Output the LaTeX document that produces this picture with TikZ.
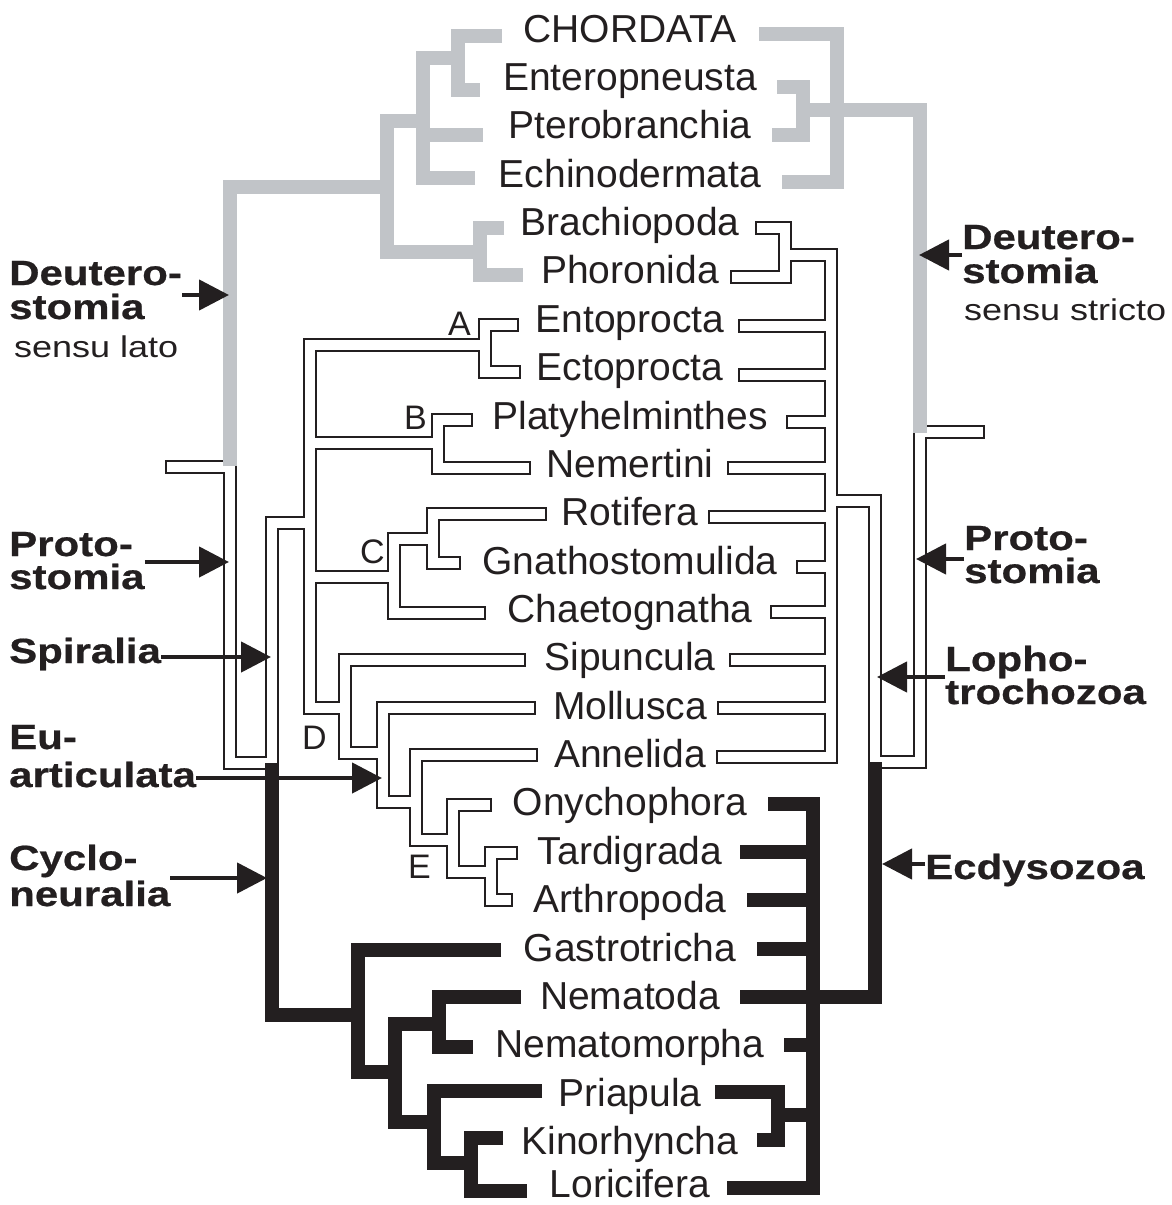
\documentclass[tikz,border=0pt]{standalone}
\usepackage{fontspec}
\usetikzlibrary{arrows.meta}
\newfontfamily\taxfont{Liberation Sans}
\newfontfamily\sidefont[FakeStretch=1.2, BoldFeatures={FakeBold=0.6}]{Liberation Sans}
\definecolor{blk}{HTML}{231F20}
\definecolor{greyc}{HTML}{C1C4C8}
\newcommand\hollowtree[1]{%
 % left tree (hollow part)
 \draw[#1] (172,467) -- (230,467) -- (230,763) -- (272,763) -- (272,523) -- (310,523);
 \draw[#1] (485,345) -- (310,345) -- (310,708) -- (345,708);
 \draw[#1] (512,325) -- (485,325) -- (485,372) -- (514,372);
 \draw[#1] (310,443) -- (438,443);
 \draw[#1] (466,420) -- (438,420) -- (438,468) -- (524,468);
 \draw[#1] (310,577) -- (394,577);
 \draw[#1] (433,539) -- (394,539) -- (394,613) -- (479,613);
 \draw[#1] (540,514) -- (433,514) -- (433,563) -- (454,563);
 \draw[#1] (519,660) -- (345,660) -- (345,753) -- (383,753);
 \draw[#1] (529,708) -- (383,708) -- (383,802) -- (416,802);
 \draw[#1] (531,755) -- (416,755) -- (416,840) -- (453,840);
 \draw[#1] (485,805) -- (453,805) -- (453,872) -- (491,872);
 \draw[#1] (511,853) -- (491,853) -- (491,900) -- (506,900);
 % right tree (hollow part)
 \draw[#1] (978,432) -- (920,432) -- (920,762) -- (875,762) -- (875,501) -- (831,501);
 \draw[#1] (762,228) -- (785,228) -- (785,277) -- (737,277);
 \draw[#1] (785,255) -- (831,255) -- (831,757) -- (723,757);
 \foreach \yy/\xx in {326/745, 375/745, 422/793, 468/734, 517/715, 567/803, 612/777, 660/736, 708/724}
   {\draw[#1] (\xx,\yy) -- (831,\yy);}
}
\tikzset{
  greybranch/.style={draw=greyc, line width=14pt, line join=miter},
  blackbranch/.style={draw=blk, line width=14pt, line join=miter},
  hollowout/.style={draw=blk, line width=14pt, line cap=rect, line join=miter},
  hollowin/.style={draw=white, line width=10.6pt, line cap=rect, line join=miter},
  taxon/.style={anchor=base, inner sep=0pt, text=blk, font=\taxfont\fontsize{39pt}{39pt}\selectfont},
  cladelbl/.style={anchor=base west, inner sep=0pt, text=blk, font=\taxfont\fontsize{34pt}{34pt}\selectfont},
  sidebold/.style={anchor=base west, inner sep=0pt, text=blk, font=\sidefont\bfseries\fontsize{35pt}{35pt}\selectfont},
  sidereg/.style={anchor=base west, inner sep=0pt, text=blk, font=\sidefont\fontsize{30pt}{30pt}\selectfont},
  pointer/.style={draw=blk, line width=4.5pt, -{Triangle[length=30pt,width=30pt]}},
}
\begin{document}
\begin{tikzpicture}[x=1pt, y=-1pt]
\fill[white] (0,0) rectangle (1172,1205);
\useasboundingbox (0,0) rectangle (1172,1205);

% hollow (outlined) branches: outline pass, then interior pass
\hollowtree{hollowout}
\hollowtree{hollowin}

% grey branches (Deuterostomia)
\draw[greybranch] (230,466) -- (230,187) -- (387,187);
\draw[greybranch] (423,121) -- (387,121) -- (387,252) -- (480,252);
\draw[greybranch] (458,58) -- (423,58) -- (423,178) -- (475,178);
\draw[greybranch] (423,135) -- (483,135);
\draw[greybranch] (502,36) -- (458,36) -- (458,90) -- (480,90);
\draw[greybranch] (504,228) -- (480,228) -- (480,275) -- (523,275);
\draw[greybranch] (759,34) -- (837,34) -- (837,182) -- (782,182);
\draw[greybranch] (777,87) -- (803,87) -- (803,135) -- (772,135);
\draw[greybranch] (803,110) -- (920,110) -- (920,433);

% black branches
\draw[blackbranch] (272,763) -- (272,1015) -- (358,1015);
\draw[blackbranch] (501,950) -- (358,950) -- (358,1072) -- (395,1072);
\draw[blackbranch] (439,1024) -- (395,1024) -- (395,1122) -- (434,1122);
\draw[blackbranch] (521,997) -- (439,997) -- (439,1047) -- (473,1047);
\draw[blackbranch] (542,1091) -- (434,1091) -- (434,1163) -- (471,1163);
\draw[blackbranch] (503,1138) -- (471,1138) -- (471,1191) -- (527,1191);
\draw[blackbranch] (875,762) -- (875,997) -- (813,997);
\draw[blackbranch] (768,804) -- (813,804) -- (813,1188) -- (727,1188);
\foreach \yy/\xx in {852/740, 900/747, 949/757, 997/740, 1045/784}
  {\draw[blackbranch] (\xx,\yy) -- (813,\yy);}
\draw[blackbranch] (715,1092) -- (778,1092) -- (778,1140) -- (757,1140);
\draw[blackbranch] (778,1115) -- (813,1115);

% taxa
\node[taxon] (tCho) at (630,42) {CHORDATA};
\node[taxon] (tEnt) at (630,90.4) {Enteropneusta};
\node[taxon] (tPte) at (630,138.7) {Pterobranchia};
\node[taxon] (tEch) at (630,187.1) {Echinodermata};
\node[taxon] (tBra) at (630,235.5) {Brachiopoda};
\node[taxon] (tPho) at (630,283.9) {Phoronida};
\node[taxon] (tEnto) at (630,332.2) {Entoprocta};
\node[taxon] (tEcto) at (630,380.6) {Ectoprocta};
\node[taxon] (tPla) at (630,429.0) {Platyhelminthes};
\node[taxon] (tNem) at (630,477.3) {Nemertini};
\node[taxon] (tRot) at (630,525.7) {Rotifera};
\node[taxon] (tGna) at (630,574.1) {Gnathostomulida};
\node[taxon] (tCha) at (630,622.4) {Chaetognatha};
\node[taxon] (tSip) at (630,670.8) {Sipuncula};
\node[taxon] (tMol) at (630,719.2) {Mollusca};
\node[taxon] (tAnn) at (630,767.6) {Annelida};
\node[taxon] (tOny) at (630,815.9) {Onychophora};
\node[taxon] (tTar) at (630,864.3) {Tardigrada};
\node[taxon] (tArt) at (630,912.7) {Arthropoda};
\node[taxon] (tGas) at (630,961.0) {Gastrotricha};
\node[taxon] (tNema) at (630,1009.4) {Nematoda};
\node[taxon] (tNmo) at (630,1057.8) {Nematomorpha};
\node[taxon] (tPri) at (630,1106.1) {Priapula};
\node[taxon] (tKin) at (630,1154.5) {Kinorhyncha};
\node[taxon] (tLor) at (630,1197) {Loricifera};

% clade letters
\node[cladelbl] (cA) at (448,335) {A};
\node[cladelbl] (cB) at (404,429) {B};
\node[cladelbl] (cC) at (360,563) {C};
\node[cladelbl] (cD) at (302,749) {D};
\node[cladelbl] (cE) at (408,878) {E};

% left side labels
\node[sidebold] (lDe1) at (9,285) {Deutero-};
\node[sidebold] (lDe2) at (9,319) {stomia};
\node[sidereg]  (lDe3) at (14,357) {sensu lato};
\node[sidebold] (lPr1) at (9,556) {Proto-};
\node[sidebold] (lPr2) at (9,589) {stomia};
\node[sidebold] (lSp)  at (9,663) {Spiralia};
\node[sidebold] (lEu1) at (9,749) {Eu-};
\node[sidebold] (lEu2) at (9,787) {articulata};
\node[sidebold] (lCy1) at (9,870) {Cyclo-};
\node[sidebold] (lCy2) at (9,906) {neuralia};

% right side labels
\node[sidebold] (rDe1) at (962,249) {Deutero-};
\node[sidebold] (rDe2) at (962,283) {stomia};
\node[sidereg]  (rDe3) at (964,320) {sensu stricto};
\node[sidebold] (rPr1) at (964,550) {Proto-};
\node[sidebold] (rPr2) at (964,583) {stomia};
\node[sidebold] (rLo1) at (945,671) {Lopho-};
\node[sidebold] (rLo2) at (945,704) {trochozoa};
\node[sidebold] (rEc)  at (925,879) {Ecdysozoa};

% arrow tips
\coordinate (aDL) at (229,295);
\coordinate (aPrL) at (229,562);
\coordinate (aSp) at (271,657);
\coordinate (aEu) at (382,778);
\coordinate (aCy) at (267,878);
\coordinate (aDR) at (919,255);
\coordinate (aPrR) at (916,559);
\coordinate (aLo) at (877,677);
\coordinate (aEc) at (882,864);

\draw[pointer] (lDe1.east |- aDL) -- (aDL);
\draw[pointer] (lPr2.east |- aPrL) -- (aPrL);
\draw[pointer] (lSp.east |- aSp) -- (aSp);
\draw[pointer] (lEu2.east |- aEu) -- (aEu);
\draw[pointer] (lCy2.east |- aCy) -- (aCy);
\draw[pointer] (rDe1.west |- aDR) -- (aDR);
\draw[pointer] (rPr1.west |- aPrR) -- (aPrR);
\draw[pointer] (rLo1.west |- aLo) -- (aLo);
\draw[pointer] (rEc.west |- aEc) -- (aEc);
\end{tikzpicture}
\end{document}
